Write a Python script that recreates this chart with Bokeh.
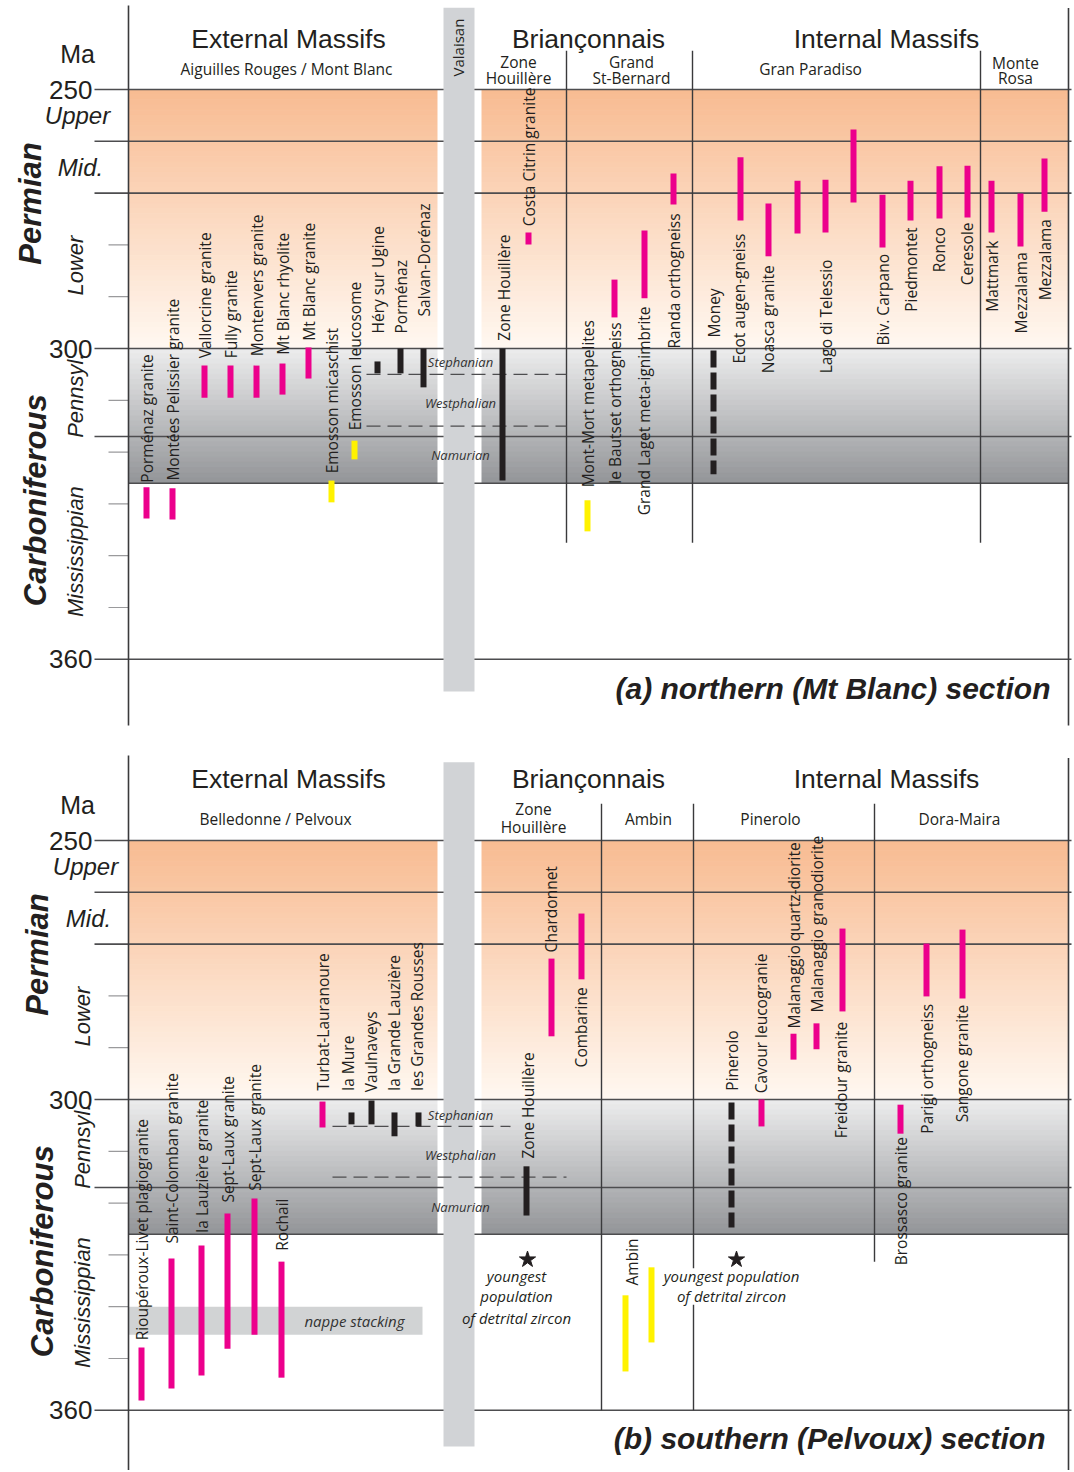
import numpy as np
from bokeh.plotting import figure
from bokeh.layouts import column
from bokeh.models import Range1d
from bokeh.embed import file_html
from bokeh.resources import INLINE
from bokeh.core.properties import value

# ---------------- DATA ----------------
# kind: M = magmatic (magenta), D = detrital / metamorphic (yellow),
#       B = Stephanian basin (black), BD = basin, dashed (black)

# (a) northern (Mt Blanc) section
a_names = ["Porménaz granite", "Montées Pelissier granite", "Vallorcine granite", "Fully granite",
           "Montenvers granite", "Mt Blanc rhyolite", "Mt Blanc granite", "Emosson micaschist",
           "Emosson leucosome", "Héry sur Ugine", "Porménaz", "Salvan-Dorénaz", "Zone Houillère",
           "Costa Citrin granite", "Mont-Mort metapelites", "le Bautset orthogneiss",
           "Grand Laget meta-ignimbrite", "Randa orthogneiss", "Money", "Ecot augen-gneiss",
           "Noasca granite", "", "Lago di Telessio", "", "Biv. Carpano", "Piedmontet", "Ronco",
           "Ceresole", "Mattmark", "Mezzalama", "Mezzalama"]
a_slot = [146, 172, 204, 230, 256, 282, 308, 331, 354, 377, 400, 423, 502, 528, 587, 614, 644, 673,
          713, 740, 768, 797, 825, 853, 882, 910, 939, 967, 991, 1020, 1044]
a_young = [326.8, 327.0, 303.3, 303.3, 303.3, 302.9, 299.8, 325.5, 317.8, 302.5, 300.0, 300.0, 300.0,
           277.6, 329.3, 286.7, 277.2, 266.2, 300.4, 263.1, 272.0, 267.6, 267.4, 257.7, 270.3, 267.6,
           264.8, 264.7, 267.6, 270.1, 263.3]
a_old = [332.8, 333.0, 309.5, 309.5, 309.5, 308.9, 305.8, 329.7, 321.4, 304.8, 304.8, 307.5, 325.5,
         279.9, 335.3, 294.0, 290.3, 272.2, 324.3, 275.3, 282.2, 277.8, 277.6, 271.8, 280.5, 275.3,
         274.9, 274.7, 277.6, 280.3, 273.6]
a_kind = ["M", "M", "M", "M", "M", "M", "M", "D", "D", "B", "B", "B", "B", "M", "D", "M", "M", "M",
          "BD", "M", "M", "M", "M", "M", "M", "M", "M", "M", "M", "M", "M"]

# (b) southern (Pelvoux) section
b_names = ["Rioupéroux-Livet plagiogranite", "Saint-Colomban granite", "la Lauzière granite",
           "Sept-Laux granite", "Sept-Laux granite", "Rochail", "Turbat-Lauranoure", "la Mure",
           "Vaulnaveys", "la Grande Lauzière", "les Grandes Rousses", "Zone Houillère", "Chardonnet",
           "Combarine", "Ambin", "", "Pinerolo", "Cavour leucogranie", "Malanaggio quartz-diorite",
           "Malanaggio granodiorite", "Freidour granite", "Brossasco granite", "Parigi orthogneiss",
           "Sangone granite"]
b_slot = [141, 171, 201, 227, 254, 281, 322, 351, 371, 394, 418, 526, 551, 581, 625, 651, 731, 761,
          793, 816, 842, 900, 926, 962]
b_young = [347.9, 330.7, 328.2, 322.0, 319.1, 331.3, 300.4, 302.5, 300.2, 302.5, 302.5, 312.9, 272.8,
           264.1, 337.8, 332.4, 300.6, 300.0, 287.3, 285.3, 267.0, 301.0, 269.9, 267.2]
b_old = [358.1, 355.8, 353.3, 348.1, 345.4, 353.7, 305.4, 304.8, 304.8, 307.1, 305.2, 322.4, 287.8,
         276.8, 352.5, 346.9, 324.7, 305.2, 292.3, 290.3, 283.0, 306.6, 280.1, 280.5]
b_kind = ["M", "M", "M", "M", "M", "M", "M", "B", "B", "B", "B", "B", "M", "M", "D", "D", "BD", "M",
          "M", "M", "M", "M", "M", "M"]

# time scale (Ma)
stage_lines = [250, 260, 270, 300, 317, 360]
minor_ticks = [280, 290, 310, 320, 330, 340, 350]
tick_labels = ["250", "300", "360"]
tick_values = [250, 300, 360]
carb_stage_names = ["Stephanian", "Westphalian", "Namurian"]

# ---------------- LAYOUT (label anchors, not data) ----------------
a_lab_x = [146, 172, 204, 230, 256, 282, 308, 331, 354, 377, 400, 423, 503, 528, 587, 614, 643, 673,
           713, 738, 767, None, 825, None, 882, 910, 938, 966, 991, 1020, 1044]
a_lab_y = [325.9, 325.5, 301.9, 301.9, 301.5, 301.2, 298.5, 324.1, 315.8, 297.1, 297.1, 293.8, 298.5,
           276.4, 326.8, 326.1, 332.2, 300.0, 297.9, 302.9, 304.8, None, 304.8, None, 299.4, 292.9,
           285.3, 287.8, 292.9, 297.1, 290.7]
b_lab_x = [141, 171, 201, 227, 254, 281, 322, 347, 370, 393, 416, 527, 550, 580, 631, None, 731, 760,
           793, 816, 840, 900, 926, 961]
b_lab_y = [346.5, 327.8, 325.7, 319.9, 317.6, 329.2, 298.3, 298.3, 298.6, 298.3, 298.3, 311.4, 271.6,
           293.8, 335.9, None, 298.3, 298.8, 286.3, 283.2, 307.5, 332.0, 306.6, 304.4]

COLORS = {"M": "#ec008c", "D": "#fff200", "B": "#231f20", "BD": "#231f20"}
TXT = "#231f20"
LINE = "#4d4d4f"
ARIAL = value("Liberation Sans")
MYR = value("Open Sans")
PXMA = 5.18
W = 1072
XR = (0, 1072)


def hex2rgb(h):
    return np.array([int(h[i:i + 2], 16) for i in (1, 3, 5)], float)


def rgb2hex(c):
    return "#%02x%02x%02x" % tuple(int(round(v)) for v in c)


def gradient(p, y0, y1, c0, c1, n, x0, x1):
    ys = np.linspace(y0, y1, n + 1)
    a, b = hex2rgb(c0), hex2rgb(c1)
    cols = [rgb2hex(a + (b - a) * (i + 0.5) / n) for i in range(n)]
    p.quad(left=x0, right=x1, top=ys[:-1], bottom=ys[1:], fill_color=cols, line_color=cols, line_width=1)


def make_fig(h, top_ma):
    p = figure(width=W, height=h, x_range=Range1d(*XR), y_range=Range1d(top_ma + h / PXMA, top_ma),
               output_backend="svg", toolbar_location=None, x_axis_location=None,
               y_axis_location=None, min_border=0, outline_line_color=None,
               background_fill_color="white", border_fill_color="white")
    p.grid.visible = False
    return p


def htext(p, x, y, t, size, font=ARIAL, style="normal", align="center", color=TXT):
    p.text(x=[x], y=[y], text=[t], text_font=font, text_font_size=size, text_font_style=style,
           text_align=align, text_baseline="middle", text_color=color)


def vtext(p, x, y, t, size, font=ARIAL, style="normal", align="center", color=TXT):
    p.text(x=[x], y=[y], text=[t], angle=np.pi / 2, text_font=font, text_font_size=size,
           text_font_style=style, text_align=align, text_baseline="middle", text_color=color)


def draw_panel(p, ax_top, ax_bot, names, slot, young, old, kind, lab_x, lab_y, lx, dividers,
               val_top, val_bot, dash_spans, stage_y):
    L, R = 128, 1068
    gradient(p, 250, 300, "#f8bb91", "#fff8f1", 50, L, R)
    gradient(p, 300, 326, "#ededee", "#939598", 26, L, R)
    p.quad(left=437, right=481, top=249.5, bottom=326.5, fill_color="white", line_color=None)
    # time lines and ticks
    p.segment(x0=94, x1=1071, y0=stage_lines, y1=stage_lines, line_color=LINE, line_width=1.6)
    p.segment(x0=L, x1=R, y0=326, y1=326, line_color=LINE, line_width=1.4)
    p.segment(x0=108, x1=L, y0=minor_ticks, y1=minor_ticks, line_color="#9a9a9c", line_width=1.2)
    # frame
    p.segment(x0=[L], x1=[L], y0=[ax_top], y1=[ax_bot], line_color="#3a3a3c", line_width=1.6)
    p.segment(x0=[R], x1=[R], y0=[ax_top + 0.5], y1=[ax_bot], line_color="#3a3a3c", line_width=1.6)
    for (dx, d0, d1) in dividers:
        p.segment(x0=[dx], x1=[dx], y0=[d0], y1=[d1], line_color="#3a3a3c", line_width=1.4)
    # Valaisan band
    p.quad(left=443, right=474, top=val_top, bottom=val_bot, fill_color="#d1d3d6", line_color=None)
    # Carboniferous stage boundaries (dashed)
    for (yv, x0, x1) in dash_spans:
        p.segment(x0=[x0], x1=[x1], y0=[yv], y1=[yv], line_color="#4d4d4f", line_width=1.3,
                  line_dash="14 7")
    for nm, yv in zip(carb_stage_names, stage_y):
        htext(p, 460, yv, nm, "13px", font=MYR, style="italic", color="#333333")
    # bars
    solid = [i for i, k in enumerate(kind) if k != "BD"]
    p.vbar(x=[slot[i] for i in solid], bottom=[old[i] for i in solid], top=[young[i] for i in solid],
           width=6, fill_color=[COLORS[kind[i]] for i in solid], line_color=None)
    dashed = [i for i, k in enumerate(kind) if k == "BD"]
    p.segment(x0=[slot[i] for i in dashed], x1=[slot[i] for i in dashed],
              y0=[young[i] for i in dashed], y1=[old[i] for i in dashed],
              line_color=COLORS["BD"], line_width=6, line_dash="17 5", line_cap="butt")
    # sample labels
    idx = [i for i, n in enumerate(names) if n]
    p.text(x=[lab_x[i] for i in idx], y=[lab_y[i] for i in idx], text=[names[i] for i in idx],
           angle=np.pi / 2, text_font=MYR, text_font_size="15.5px", text_align="left",
           text_baseline="middle", text_color=TXT)
    # axis texts
    htext(p, 77, 243.2, "Ma", "25px")
    for t, v in zip(tick_labels, tick_values):
        htext(p, 92, v, t, "26px", align="right")
    htext(p, lx[0], 255.0, "Upper", "24px", style="italic")
    htext(p, lx[0] + 3, 265.1, "Mid.", "24px", style="italic")
    vtext(p, lx[1], 284.0, "Lower", "22px", style="italic")
    vtext(p, lx[2], 272.0, "Permian", "31px", style="bold italic")
    vtext(p, lx[1], 309.1, "Pennsyl.", "22px", style="italic")
    vtext(p, lx[2] + 5, 329.3, "Carboniferous", "31px", style="bold italic")
    vtext(p, lx[1], 339.2, "Mississippian", "22px", style="italic")


# ---------------- TOP PANEL ----------------
top_ma0 = 250 + (0 - 89) / PXMA
pa = make_fig(740, top_ma0)
draw_panel(pa, 250 + (5 - 89) / PXMA, 250 + (725 - 89) / PXMA, a_names, a_slot, a_young, a_old,
           a_kind, a_lab_x, a_lab_y, (77, 75, 30),
           [(566, 242.5, 337.5), (692, 242.5, 337.5), (980, 242.5, 337.5)],
           234.2, 366.2, [(305, 366, 566), (315, 366, 566)], [302.7, 310.6, 320.5])
htext(pa, 288, 240.2, "External Massifs", "26.5px")
htext(pa, 286, 246.1, "Aiguilles Rouges / Mont Blanc", "15.5px", font=MYR)
vtext(pa, 457, 241.9, "Valaisan", "15px", font=MYR)
htext(pa, 588, 240.2, "Briançonnais", "26.5px")
htext(pa, 518, 244.6, "Zone", "15.5px", font=MYR)
htext(pa, 518, 247.7, "Houillère", "15.5px", font=MYR)
htext(pa, 631, 244.6, "Grand", "15.5px", font=MYR)
htext(pa, 631, 247.7, "St-Bernard", "15.5px", font=MYR)
htext(pa, 886, 240.2, "Internal Massifs", "26.5px")
htext(pa, 810, 246.1, "Gran Paradiso", "15.5px", font=MYR)
htext(pa, 1015, 244.8, "Monte", "15.5px", font=MYR)
htext(pa, 1015, 247.7, "Rosa", "15.5px", font=MYR)
htext(pa, 1050, 365.6, "(a) northern (Mt Blanc) section", "30px", style="bold italic", align="right")

# ---------------- BOTTOM PANEL ----------------
bot_ma0 = 250 + (740 - 840) / PXMA
pb = make_fig(730, bot_ma0)
# nappe stacking band
pb.quad(left=128, right=422, top=340.0, bottom=345.4, fill_color="#d1d3d4", line_color=None)
draw_panel(pb, 250 + (755 - 840) / PXMA, 372, b_names, b_slot, b_young, b_old, b_kind, b_lab_x,
           b_lab_y, (85, 82, 37),
           [(601, 242.9, 360), (693, 242.9, 360), (874, 242.9, 331.3)],
           234.9, 367.0, [(305.2, 332, 510), (315, 332, 566)], [302.9, 310.8, 320.7])
htext(pb, 354, 342.7, "nappe stacking", "15px", font=MYR, style="italic", color="#333333")
htext(pb, 288, 238.2, "External Massifs", "26.5px")
htext(pb, 275, 245.9, "Belledonne / Pelvoux", "15.5px", font=MYR)
htext(pb, 588, 238.2, "Briançonnais", "26.5px")
htext(pb, 533, 244.0, "Zone", "15.5px", font=MYR)
htext(pb, 533, 247.3, "Houillère", "15.5px", font=MYR)
htext(pb, 648, 245.9, "Ambin", "15.5px", font=MYR)
htext(pb, 886, 238.2, "Internal Massifs", "26.5px")
htext(pb, 770, 245.9, "Pinerolo", "15.5px", font=MYR)
htext(pb, 959, 245.9, "Dora-Maira", "15.5px", font=MYR)
# detrital zircon notes
pb.quad(left=658, right=806, top=332.6, bottom=339.6, fill_color="white", line_color=None)
pb.scatter(x=[527, 736], y=[330.9, 330.9], marker="star", size=17, color=TXT)
for t, yv in zip(["youngest", "population", "of detrital zircon"], [334.0, 338.0, 342.1]):
    htext(pb, 516, yv, t, "15px", font=MYR, style="italic")
for t, yv in zip(["youngest population", "of detrital zircon"], [334.0, 338.0]):
    htext(pb, 731, yv, t, "15px", font=MYR, style="italic")
htext(pb, 1045, 365.4, "(b) southern (Pelvoux) section", "30px", style="bold italic", align="right")

layout = column(pa, pb, spacing=0)
open("out.html", "w").write(file_html(layout, INLINE))
